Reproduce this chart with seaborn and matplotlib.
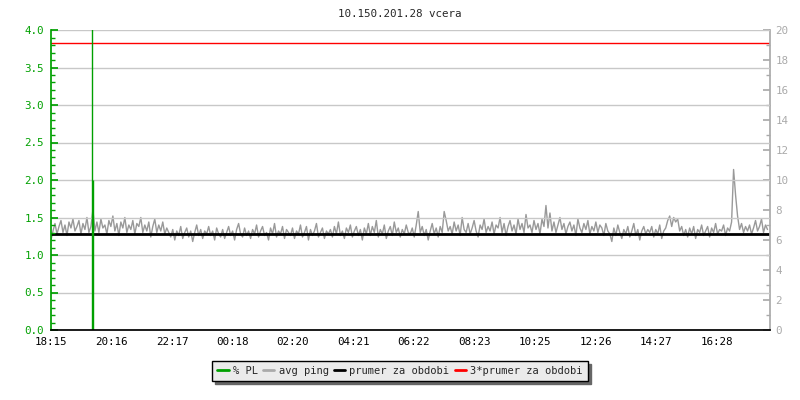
import numpy as np
import pandas as pd
import seaborn as sns
import matplotlib.pyplot as plt
from matplotlib.lines import Line2D
from matplotlib.ticker import MultipleLocator

# ping samples every 4 minutes starting at 18:15 (ms)
ping_ms = [
    6.0, 6.6, 7.1, 6.4, 6.9, 7.3, 6.5, 7.0, 6.3, 7.2, 6.8, 7.4, 6.6, 6.9, 7.3, 6.4, 7.1, 6.7, 7.5, 6.5,
    6.9, 8.0, 6.6, 7.2, 6.5, 7.4, 6.8, 7.0, 6.4, 7.3, 6.9, 7.6, 6.6, 7.1, 6.3, 7.2, 6.8, 7.5, 6.5, 7.0,
    6.7, 7.3, 6.4, 7.1, 6.9, 7.5, 6.5, 7.0, 6.6, 7.2, 6.2, 6.9, 7.4, 6.5, 7.0, 6.6, 7.2, 6.4, 6.8, 6.5,
    6.2, 6.7, 6.0, 6.6, 6.3, 6.9, 6.1, 6.5, 6.8, 6.2, 6.6, 5.9, 6.5, 7.0, 6.3, 6.7, 6.1, 6.6, 6.4, 6.9,
    6.3, 6.6, 6.0, 6.8, 6.4, 6.2, 6.7, 6.1, 6.5, 6.9, 6.3, 6.6, 6.0, 6.7, 7.1, 6.4, 6.2, 6.8, 6.3, 6.6,
    6.1, 6.7, 6.4, 7.0, 6.2, 6.6, 6.9, 6.3, 6.5, 6.0, 6.8, 6.4, 7.1, 6.2, 6.6, 6.4, 6.9, 6.1, 6.7, 6.5,
    6.3, 6.8, 6.1, 6.6, 6.4, 7.0, 6.2, 6.5, 6.9, 6.0, 6.7, 6.3, 6.6, 7.1, 6.2, 6.5, 6.8, 6.1, 6.6, 6.4,
    6.7, 6.2, 6.9, 6.4, 7.2, 6.3, 6.6, 6.1, 6.8, 6.5, 7.0, 6.2, 6.6, 6.9, 6.3, 6.7, 6.0, 6.8, 6.4, 7.1,
    6.3, 6.9, 6.5, 7.3, 6.2, 6.7, 6.4, 7.0, 6.1, 6.6, 6.9, 6.3, 7.2, 6.5, 6.8, 6.2, 6.7, 6.4, 7.0, 6.5,
    6.4, 6.8, 6.2, 7.0, 7.9, 6.5, 6.9, 6.3, 6.7, 6.0, 6.6, 7.1, 6.4, 6.8, 6.2, 6.9, 6.5, 7.9, 7.3, 6.6,
    6.9, 6.4, 7.2, 6.6, 7.0, 6.3, 7.5, 6.7, 6.5, 7.1, 6.4, 6.8, 7.3, 6.6, 6.2, 7.0, 6.7, 7.4, 6.5, 6.9,
    6.6, 7.2, 6.4, 7.0, 6.8, 7.5, 6.5, 7.1, 6.3, 6.9, 7.3, 6.6, 7.0, 6.4, 7.4, 6.7, 7.1, 6.5, 7.7, 6.8,
    7.0, 6.5, 7.3, 6.7, 7.1, 6.4, 7.4, 6.9, 8.3, 6.8, 7.8, 6.6, 7.2, 6.5, 7.0, 7.5, 6.7, 7.1, 6.4, 6.9,
    7.2, 6.6, 7.0, 6.3, 7.4, 6.8, 6.5, 7.1, 6.7, 7.3, 6.4, 6.9, 6.6, 7.2, 6.5, 7.0, 6.8, 6.3, 7.1, 6.6,
    6.4, 5.9, 6.8, 6.3, 7.0, 6.5, 6.1, 6.7, 6.4, 6.9, 6.2, 6.6, 7.1, 6.3, 6.7, 6.0, 6.6, 6.9, 6.4, 6.7,
    6.5, 6.9, 6.2, 6.7, 6.4, 7.0, 6.1, 6.6, 6.8, 7.3, 7.6, 6.9, 7.5, 7.2, 7.4, 6.6, 6.9, 6.3, 6.7, 6.2,
    6.8, 6.4, 6.9, 6.1, 6.7, 6.5, 7.0, 6.3, 6.6, 6.9, 6.2, 6.8, 6.5, 7.1, 6.4, 6.7, 6.6, 7.0, 6.3, 6.8,
    6.6, 7.2, 10.7, 9.0, 7.6, 6.7, 7.1, 6.5, 6.9, 6.6, 7.0, 6.4, 6.8, 7.3, 6.6, 6.9, 7.4, 6.5, 7.0, 6.7,
]
step_min = 4

# packet loss events (minutes after 18:15, %)
pl_minutes = [82, 84]
pl_values = [100.0, 2.0]

prumer = 6.37  # average ping for the period (ms)

tick_labels = ["18:15", "20:16", "22:17", "00:18", "02:20", "04:21",
               "06:22", "08:23", "10:25", "12:26", "14:27", "16:28"]
tick_step = 121.25

title = "10.150.201.28 vcera"

GREEN = "#00a000"
GREYLINE = "#999999"
RED = "#ff0000"
FS = 7.3

df = pd.DataFrame({"minute": np.arange(len(ping_ms)) * step_min, "ping": ping_ms})

sns.set_theme(style="white")
plt.rcParams["font.family"] = ["DejaVu Sans Mono"]
plt.rcParams["font.size"] = FS

fig = plt.figure(figsize=(8, 4), dpi=100)
ax = fig.add_axes([51 / 800, 70 / 400, 719 / 800, 300 / 400])
ax2 = ax.twinx()

# ping on right axis
sns.lineplot(data=df, x="minute", y="ping", ax=ax2, color=GREYLINE, lw=1)
ax2.axhline(prumer, color="black", lw=2)
ax2.axhline(3 * prumer, color=RED, lw=1)
ax2.set_ylim(0, 20)
ax2.set_ylabel("")
ax2.yaxis.set_major_locator(MultipleLocator(2))
ax2.yaxis.set_minor_locator(MultipleLocator(1))
ax2.tick_params(axis="y", which="both", direction="in", colors="#aaaaaa",
                labelcolor="#aaaaaa", labelsize=FS + 0.5, pad=4)
ax2.tick_params(axis="y", which="major", length=5)
ax2.tick_params(axis="y", which="minor", length=3)

# packet loss on left axis, on top
ax.set_zorder(ax2.get_zorder() + 1)
ax.patch.set_visible(False)
ax.vlines(pl_minutes, 0, pl_values, color=GREEN, lw=1)
ax.set_ylim(0, 4)
ax.set_xlim(0, 1441)
ax.yaxis.set_major_locator(MultipleLocator(0.5))
ax.yaxis.set_minor_locator(MultipleLocator(0.1))
ax.yaxis.set_major_formatter(lambda v, p: f"{v:.1f}")
ax.tick_params(axis="y", which="both", direction="in", colors=GREEN,
               labelcolor=GREEN, labelsize=FS + 0.5, pad=5)
ax.tick_params(axis="y", which="major", length=5)
ax.tick_params(axis="y", which="minor", length=3)
ax.set_xticks(np.arange(len(tick_labels)) * tick_step)
ax.set_xticklabels(tick_labels)
ax.tick_params(axis="x", direction="in", length=4, colors="black", labelsize=FS + 0.5, pad=5)
ax.grid(axis="y", color="#c8c8c8", lw=1)
ax.grid(axis="x", visible=False)
ax.set_axisbelow(True)

for a in (ax, ax2):
    a.spines["top"].set_visible(False)
ax.spines["left"].set_color(GREEN)
ax.spines["right"].set_visible(False)
ax.spines["bottom"].set_color("black")
ax2.spines["left"].set_visible(False)
ax2.spines["bottom"].set_visible(False)
ax2.spines["right"].set_color("#aaaaaa")

fig.text(0.5, 1 - 14 / 400, title, ha="center", va="center", fontsize=FS + 0.5)

handles = [Line2D([], [], color=GREEN, lw=2),
           Line2D([], [], color="#aaaaaa", lw=2),
           Line2D([], [], color="black", lw=2),
           Line2D([], [], color=RED, lw=2)]
names = ["% PL", "avg ping", "prumer za obdobi", "3*prumer za obdobi"]
leg = fig.legend(handles, names, loc="center", bbox_to_anchor=(0.5, 1 - 371 / 400),
                 ncol=4, frameon=True, fancybox=False, shadow={"color": "#666666", "alpha": 1},
                 edgecolor="black", facecolor="#ebebeb", framealpha=1,
                 handlelength=1.1, handletextpad=0.4, columnspacing=0.5,
                 borderpad=0.5, fontsize=FS + 0.2)
leg.get_frame().set_linewidth(1)

fig.savefig("out.png", dpi=100)
